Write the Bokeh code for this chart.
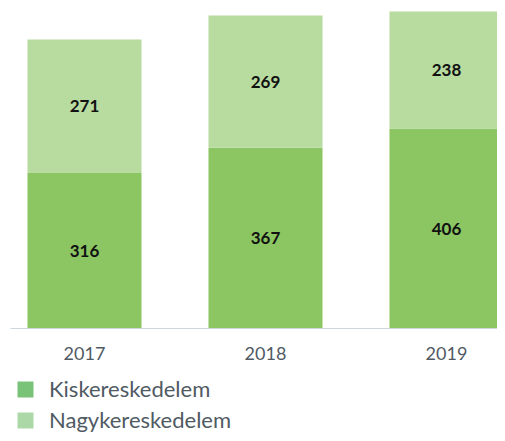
from bokeh.plotting import figure
from bokeh.models import ColumnDataSource, FixedTicker, Legend, LegendItem
from bokeh.layouts import column
from bokeh.embed import file_html
from bokeh.resources import INLINE
from bokeh.core.properties import value

years = ["2017", "2018", "2019"]
kisker = [316, 367, 406]
nagyker = [271, 269, 238]
series_names = ["Kiskereskedelem", "Nagykereskedelem"]

DARK = "#8cc662"
LIGHT = "#b8dba0"
LEG_DARK = "#79c379"
LEG_LIGHT = "#acd8a7"
TXT = "#505a63"

x = list(range(len(years)))
top2 = [a + b for a, b in zip(kisker, nagyker)]
mid1 = [a / 2 for a in kisker]
mid2 = [a + b / 2 for a, b in zip(kisker, nagyker)]

src = ColumnDataSource(dict(
    x=x, k=kisker, top2=top2, mid1=mid1, mid2=mid2,
    lab1=[str(v) for v in kisker], lab2=[str(v) for v in nagyker],
))

p = figure(width=497, height=365,
           x_range=(-0.4088, 2.2818), y_range=(0, 650),
           output_backend="svg", toolbar_location=None,
           y_axis_location=None,
           min_border_left=10, min_border_right=0, min_border_top=8, min_border_bottom=37)
p.outline_line_color = None
p.xgrid.visible = False
p.ygrid.visible = False
p.background_fill_color = "white"
p.border_fill_color = "white"

p.vbar(x="x", bottom=0, top="k", width=0.63, fill_color=DARK, line_color=None, source=src)
p.vbar(x="x", bottom="k", top="top2", width=0.63, fill_color=LIGHT, line_color=None, source=src)

for ycol, tcol in (("mid1", "lab1"), ("mid2", "lab2")):
    p.text(x="x", y=ycol, text=tcol, source=src, text_align="center", text_baseline="middle",
           text_font=value("Lato"), text_font_style="bold", text_font_size="17px",
           text_color="#111111")

ax = p.xaxis[0]
ax.ticker = FixedTicker(ticks=x)
ax.major_label_overrides = {i: y for i, y in zip(x, years)}
ax.major_tick_line_color = None
ax.minor_tick_line_color = None
ax.axis_line_color = "#cdd6e1"
ax.axis_line_width = 1
ax.major_label_text_font = "Lato"
ax.major_label_text_font_size = "18px"
ax.major_label_text_color = TXT
ax.major_label_standoff = 12

# legend panel (swatch renderers lie outside the visible range)
q = figure(width=497, height=68, x_range=(0, 1), y_range=(0, 1),
           output_backend="svg", toolbar_location=None,
           x_axis_location=None, y_axis_location=None,
           min_border_left=0, min_border_right=0, min_border_top=0, min_border_bottom=0)
q.outline_line_color = None
q.xgrid.visible = False
q.ygrid.visible = False
lr1 = q.vbar(x=[-10], top=[0], width=0.5, fill_color=LEG_DARK, line_color=None)
lr2 = q.vbar(x=[-10], top=[0], width=0.5, fill_color=LEG_LIGHT, line_color=None)
legend = Legend(items=[LegendItem(label=series_names[0], renderers=[lr1]),
                       LegendItem(label=series_names[1], renderers=[lr2])],
                orientation="vertical", location=(5, 0),
                glyph_width=20, glyph_height=20, label_standoff=14,
                label_text_font="Lato", label_text_font_size="22px",
                label_text_color=TXT, spacing=4, padding=0, margin=0,
                border_line_color=None, background_fill_alpha=0)
q.add_layout(legend)

layout = column(p, q, spacing=0)
open("out.html", "w").write(file_html(layout, INLINE))
